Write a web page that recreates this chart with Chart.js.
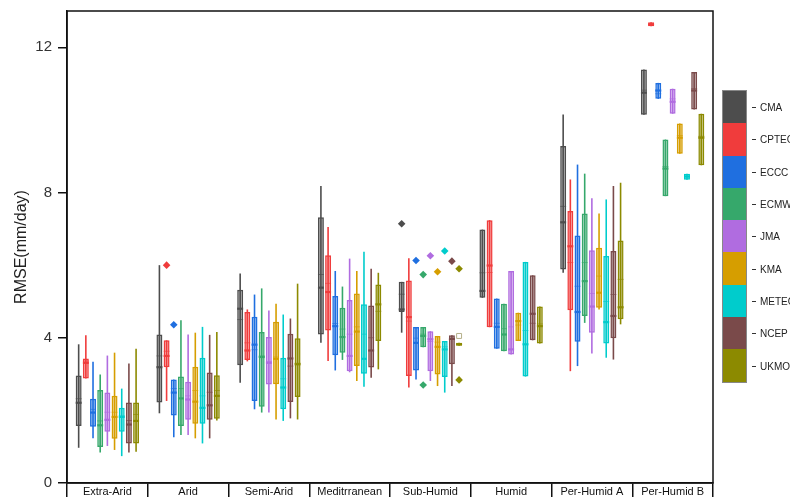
<!DOCTYPE html>
<html>
<head>
<meta charset="utf-8">
<script src="https://cdn.jsdelivr.net/npm/chart.js@4/dist/chart.umd.min.js"></script>
<style>
  html, body { margin: 0; padding: 0; background: #fff; overflow: hidden; }
  #wrap { position: relative; width: 790px; height: 497px; }
  #legenda { position: absolute; left: 723px; top: 91px; outline: 1px solid #888; }
  .item { position: relative; width: 23px; height: 32.3px; }
  .item i { position: absolute; left: 29px; top: 50%; width: 4px; height: 1px; background: #333; }
  .item span { position: absolute; left: 37px; top: 50%; transform: translateY(-50%);
    font: 10px "Liberation Sans", Arial, sans-serif; color: #222; white-space: nowrap; }
</style>
</head>
<body>
<div id="wrap">
  <canvas id="grafico" width="790" height="497"></canvas>
  <div id="legenda"></div>
</div>
<script>
// dados (RMSE mm/day)
const categorias = ['Extra-Arid', 'Arid', 'Semi-Arid', 'Meditrranean', 'Sub-Humid', 'Humid', 'Per-Humid A', 'Per-Humid B'];
const modelos = ['CMA', 'CPTEC', 'ECCC', 'ECMWF', 'JMA', 'KMA', 'METEO', 'NCEP', 'UKMO'];
const cores = ['#4d4d4d', '#f03c3c', '#1f6fe0', '#36a86b', '#b06ce0', '#d69e00', '#00cccc', '#7a4a4a', '#8c8a00'];

// uma linha por modelo, uma coluna por categoria
const bigodeMax = [
  [3.82, 6.00, 5.77, 8.18, 5.54, 6.98, 10.15, 11.39],
  [4.07, 3.93, 4.78, 7.05, 6.19, 7.24, 8.36, 12.69],
  [3.34, 2.85, 5.19, 5.84, 4.30, 5.08, 8.77, 11.02],
  [2.99, 4.48, 5.36, 5.41, 4.30, 4.94, 8.52, 9.46],
  [3.51, 4.09, 4.75, 6.18, 4.18, 5.84, 7.84, 10.86],
  [3.59, 4.14, 4.94, 5.84, 4.05, 4.69, 7.42, 9.90],
  [2.60, 4.30, 4.64, 6.37, 3.91, 6.09, 7.81, 8.52],
  [3.29, 4.08, 4.53, 5.90, 4.07, 5.72, 8.18, 11.32],
  [3.70, 4.16, 5.49, 5.79, 3.86, 4.86, 8.27, 10.17]
];
const q3 = [
  [2.96, 4.09, 5.32, 7.32, 5.54, 6.98, 9.28, 11.39],
  [3.43, 3.93, 4.71, 6.27, 5.58, 7.24, 7.49, 12.69],
  [2.32, 2.85, 4.58, 5.15, 4.30, 5.08, 6.82, 11.02],
  [2.56, 2.93, 4.16, 4.83, 4.30, 4.94, 7.42, 9.46],
  [2.49, 2.79, 4.02, 5.04, 4.18, 5.84, 6.41, 10.86],
  [2.40, 3.20, 4.44, 5.22, 4.05, 4.69, 6.48, 9.90],
  [2.07, 3.45, 3.45, 4.92, 3.91, 6.09, 6.25, 8.52],
  [2.22, 3.04, 4.11, 4.89, 4.07, 5.72, 6.39, 11.32],
  [2.22, 2.97, 3.99, 5.47, 3.86, 4.86, 6.68, 10.17]
];
const mediana = [
  [2.21, 3.19, 4.80, 5.38, 4.78, 5.29, 7.18, 10.75],
  [3.31, 3.50, 3.65, 5.26, 4.57, 5.99, 6.52, 12.63],
  [1.94, 2.49, 3.81, 4.32, 3.86, 4.30, 4.71, 10.81],
  [1.59, 2.33, 3.47, 4.02, 4.05, 4.09, 5.56, 8.66],
  [1.74, 2.30, 3.31, 3.50, 3.96, 3.68, 4.86, 10.50],
  [1.82, 2.24, 3.42, 4.17, 3.75, 4.46, 5.24, 9.51],
  [1.82, 2.07, 2.63, 3.42, 3.68, 3.82, 4.43, 8.44],
  [1.61, 2.14, 3.43, 3.65, 3.97, 4.66, 4.60, 10.81],
  [1.71, 2.40, 3.27, 4.92, 3.82, 4.32, 4.84, 9.51]
];
const media = [
  [2.32, 3.50, 4.50, 5.74, 5.20, 5.79, 7.62, 10.82],
  [3.36, 3.63, 3.86, 5.50, 4.46, 5.80, 6.07, 12.62],
  [2.03, 2.60, 3.67, 4.39, 3.99, 4.40, 5.42, 10.72],
  [1.71, 2.60, 3.50, 4.24, 4.10, 4.25, 6.07, 8.72],
  [1.95, 2.40, 3.35, 4.10, 3.90, 4.30, 5.22, 10.58],
  [1.95, 2.55, 3.47, 4.30, 3.88, 4.35, 5.70, 9.57],
  [1.85, 2.40, 2.87, 4.10, 3.75, 4.20, 5.00, 8.44],
  [1.72, 2.50, 3.22, 4.00, 3.95, 4.40, 5.19, 10.86],
  [1.89, 2.55, 3.30, 4.73, 3.82, 4.38, 5.61, 9.55]
];
const q1 = [
  [1.57, 2.22, 3.24, 4.09, 4.71, 5.10, 5.88, 10.14],
  [2.88, 3.19, 3.39, 4.20, 2.95, 4.29, 4.76, 12.58],
  [1.55, 1.86, 2.26, 3.52, 3.10, 3.70, 3.89, 10.58],
  [0.99, 1.57, 2.10, 3.59, 3.74, 3.63, 4.60, 7.90],
  [1.41, 1.74, 2.71, 3.08, 3.08, 3.54, 4.14, 10.17],
  [1.22, 1.63, 2.72, 3.22, 2.99, 3.91, 4.83, 9.07],
  [1.41, 1.63, 2.03, 3.01, 2.92, 2.93, 3.84, 8.35],
  [1.09, 1.74, 2.23, 3.18, 3.27, 3.93, 3.99, 10.29],
  [1.09, 1.77, 2.37, 3.91, 3.78, 3.84, 4.51, 8.75]
];
const bigodeMin = [
  [0.97, 1.92, 2.76, 3.86, 4.14, 5.10, 5.79, 10.14],
  [2.88, 2.26, 3.35, 3.36, 2.63, 4.29, 3.08, 12.58],
  [1.23, 1.26, 2.03, 3.10, 2.85, 3.70, 3.22, 10.58],
  [0.84, 1.32, 1.94, 3.39, 3.74, 3.63, 4.41, 7.90],
  [1.02, 1.32, 1.94, 3.05, 2.81, 3.54, 3.57, 10.17],
  [0.91, 1.23, 1.75, 2.81, 2.67, 3.91, 4.78, 9.07],
  [0.74, 1.09, 1.71, 2.65, 2.49, 2.93, 3.45, 8.35],
  [0.84, 1.23, 1.78, 2.90, 2.67, 3.93, 3.40, 10.29],
  [0.86, 1.72, 1.75, 3.13, 3.78, 3.84, 4.37, 8.75]
];

// outliers: categoria, modelo, valor
const outCategoria = [1, 1, 4, 4, 4, 4, 4, 4, 4, 4, 4, 4];
const outModelo = [1, 2, 0, 2, 3, 3, 4, 5, 6, 7, 8, 8];
const outValor = [6.00, 4.36, 7.14, 6.13, 5.74, 2.70, 6.26, 5.82, 6.39, 6.11, 5.90, 2.84];
// marcador vazio (Sub-Humid, UKMO)
const vazioCategoria = [4];
const vazioModelo = [8];
const vazioValor = [4.05];

const ticksY = [0, 4, 8, 12];

function rgba(hex, a) {
  const n = parseInt(hex.slice(1), 16);
  return 'rgba(' + (n >> 16) + ',' + ((n >> 8) & 255) + ',' + (n & 255) + ',' + a + ')';
}

// posição do modelo dentro da categoria
const larguraGrupo = 0.8;
function posX(cat, mod) {
  return cat + (mod - (modelos.length - 1) / 2) * larguraGrupo / modelos.length;
}

const datasets = [];
modelos.forEach((m, k) => {
  const base = { type: 'bar', xAxisID: 'xv', grouped: false, barPercentage: 0.83, categoryPercentage: 1, borderSkipped: false };
  const pts = vals => vals.map((v, i) => ({ x: posX(i, k), y: v }));
  datasets.push(Object.assign({}, base, {
    label: m + ' mediana', order: 0,
    data: pts(mediana[k].map(v => [v - 0.03, v + 0.03])),
    backgroundColor: cores[k]
  }));
  datasets.push(Object.assign({}, base, {
    label: m + ' média', order: 1,
    data: pts(media[k].map(v => [v - 0.012, v + 0.012])),
    backgroundColor: rgba(cores[k], 0.75)
  }));
  datasets.push(Object.assign({}, base, {
    label: m, order: 2,
    data: pts(q1[k].map((v, i) => [v, q3[k][i]])),
    backgroundColor: rgba(cores[k], 0.42),
    borderColor: cores[k],
    borderWidth: 1.5
  }));
  datasets.push(Object.assign({}, base, {
    label: m + ' bigode', order: 3,
    data: pts(bigodeMin[k].map((v, i) => [v, bigodeMax[k][i]])),
    backgroundColor: cores[k],
    maxBarThickness: 1.6
  }));
});

datasets.push({
  type: 'scatter', label: 'outliers', xAxisID: 'xv', order: 0,
  data: outValor.map((v, i) => ({ x: posX(outCategoria[i], outModelo[i]), y: v })),
  pointStyle: 'rectRot', pointRadius: 3.8,
  pointBackgroundColor: outModelo.map(k => cores[k]),
  pointBorderColor: outModelo.map(k => cores[k]),
  pointBorderWidth: 0
});
datasets.push({
  type: 'scatter', label: 'vazio', xAxisID: 'xv', order: 0,
  data: vazioValor.map((v, i) => ({ x: posX(vazioCategoria[i], vazioModelo[i]), y: v })),
  pointStyle: 'rect', pointRadius: 3.5,
  pointBackgroundColor: '#fff',
  pointBorderColor: '#b5b08a',
  pointBorderWidth: 1
});

// moldura em volta da área do gráfico
const moldura = {
  id: 'moldura',
  afterDraw(chart) {
    const { ctx, chartArea: a } = chart;
    ctx.save();
    ctx.strokeStyle = '#111';
    ctx.lineWidth = 1.5;
    ctx.strokeRect(a.left, a.top, a.right - a.left, a.bottom - a.top);
    ctx.restore();
  }
};

const fonte = '"Liberation Sans", Arial, sans-serif';

new Chart(document.getElementById('grafico'), {
  type: 'bar',
  data: { labels: categorias, datasets: datasets },
  options: {
    responsive: false,
    animation: false,
    layout: { padding: { top: 11, right: 77, left: 0, bottom: 0 } },
    plugins: { legend: { display: false }, tooltip: { enabled: false } },
    scales: {
      x: {
        type: 'category',
        offset: true,
        grid: { drawOnChartArea: false, drawTicks: true, tickLength: 14, color: '#111', lineWidth: 1.5, offset: true },
        border: { color: '#111', width: 1.5 },
        ticks: { color: '#111', font: { family: fonte, size: 11 }, padding: -12, maxRotation: 0, autoSkip: false },
        afterFit: s => { s.height = 14; s.paddingLeft = 0; s.paddingRight = 0; }
      },
      xv: { type: 'linear', display: false, offset: false, min: -0.5, max: categorias.length - 0.5 },
      y: {
        stacked: false,
        min: 0,
        max: 13,
        afterBuildTicks: s => { s.ticks = ticksY.map(v => ({ value: v })); },
        ticks: { color: '#333', font: { family: fonte, size: 15 }, padding: 6 },
        grid: { drawOnChartArea: false, drawTicks: true, tickLength: 9, color: '#111', lineWidth: 1.5 },
        border: { color: '#111', width: 1.5 },
        title: { display: true, text: 'RMSE(mm/day)', color: '#222', font: { family: fonte, size: 16 }, padding: { top: 12, bottom: 0 } },
        afterFit: s => { s.width = 67; s.paddingTop = 0; s.paddingBottom = 0; }
      }
    }
  },
  plugins: [moldura]
});

// legenda em barra de cores
const leg = document.getElementById('legenda');
modelos.forEach((m, k) => {
  const d = document.createElement('div');
  d.className = 'item';
  d.style.background = cores[k];
  d.innerHTML = '<i></i><span>' + m + '</span>';
  leg.appendChild(d);
});
</script>
</body>
</html>
